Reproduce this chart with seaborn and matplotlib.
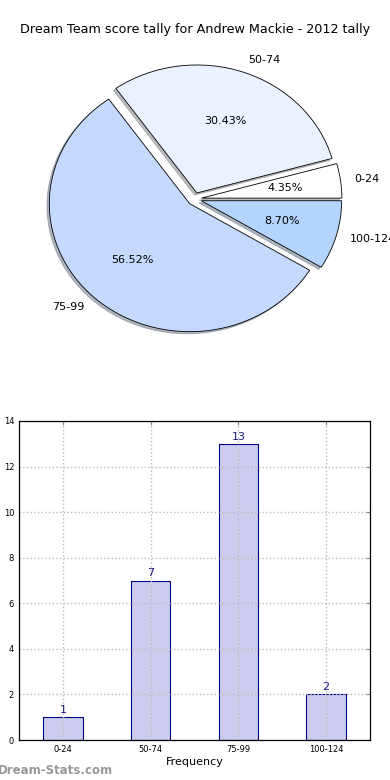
import matplotlib
matplotlib.use("Agg")
import matplotlib.pyplot as plt
import seaborn as sns
import pandas as pd

# score bands and how many rounds fell in each
bands = ["0-24", "50-74", "75-99", "100-124"]
counts = [1, 7, 13, 2]
pie_colors = ["#ffffff", "#eaf1ff", "#c5d9ff", "#b3d4ff"]

sns.set_style("white")
plt.rcParams['font.family'] = ['DejaVu Sans']
plt.rcParams['text.color'] = 'black'
plt.rcParams['xtick.color'] = 'black'
plt.rcParams['ytick.color'] = 'black'
plt.rcParams['axes.labelcolor'] = 'black'

fig = plt.figure(figsize=(3.9, 7.8), dpi=100)

# pie on top (old style, not equal aspect)
ax1 = fig.add_axes([19/390, 1 - 359/780, 351/390, 320/780])
wedges, texts, autotexts = ax1.pie(
    counts, labels=bands, colors=pie_colors, explode=[0.05] * 4,
    autopct='%1.2f%%',
    shadow={'ox': -0.012, 'oy': -0.012, 'shade': 0.5},
    wedgeprops={'edgecolor': 'black', 'linewidth': 0.6},
    textprops={'fontsize': 8, 'color': 'black'})
ax1.set_aspect('auto')
ax1.set_xlim(-1.25, 1.25)
ax1.set_ylim(-1.25, 1.25)
fig.text(0.5, 1 - 30/780, "Dream Team score tally for Andrew Mackie - 2012 tally",
         ha='center', va='center', fontsize=9.2)

# bar chart below
ax2 = fig.add_axes([19/390, 40/780, 351/390, 319/780])
df = pd.DataFrame({'band': bands, 'count': counts})
sns.barplot(data=df, x='band', y='count', ax=ax2, width=0.45,
            color='#ccccee', saturation=1, edgecolor='#000080', linewidth=0.8)
for i, c in enumerate(counts):
    ax2.text(i, c + 0.1, str(c), ha='center', va='bottom', fontsize=8, color='#1a1a80')
ax2.set_xlim(-0.5, 3.5)
ax2.set_ylim(0, 14)
ax2.set_yticks(range(0, 15, 2))
ax2.grid(True, linestyle=':', color='#bbbbbb', linewidth=1.0)
ax2.set_axisbelow(False)
for b in ax2.patches:
    b.set_zorder(1)
ax2.tick_params(labelsize=6, length=3, direction='in', top=True, right=True,
                color='#888888')
ax2.set_xlabel("Frequency", fontsize=8, labelpad=2)
ax2.set_ylabel("Dream Team Tally", fontsize=7)
ax2.yaxis.set_label_coords(-0.06, 0.5)
for s in ax2.spines.values():
    s.set_color('black')
    s.set_linewidth(0.9)
    s.set_zorder(5)

fig.text(-0.005, 10/780, "Dream-Stats.com", fontsize=8.5, color='#999999',
         fontweight='bold', ha='left', va='center')

fig.savefig("out.png", dpi=100)
